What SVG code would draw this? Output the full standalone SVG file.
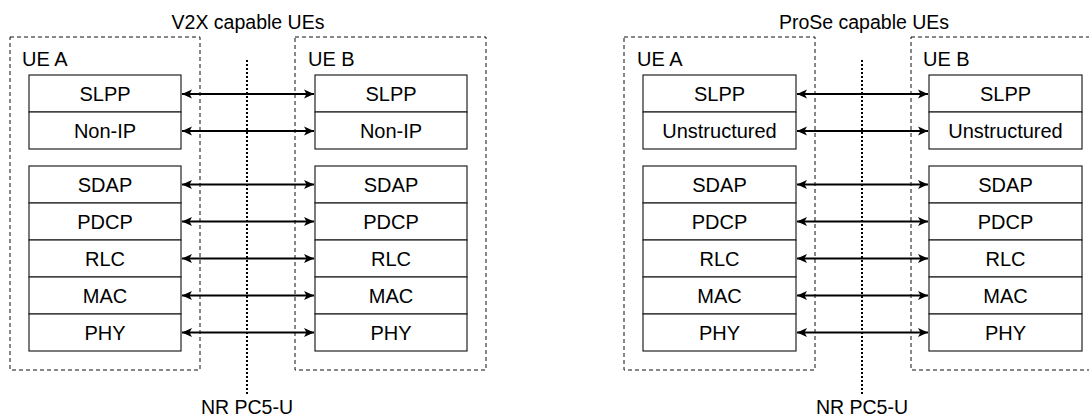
<svg xmlns="http://www.w3.org/2000/svg" width="1089" height="416" viewBox="0 0 1089 416">
<style>
text{font-family:"Liberation Sans",Arial,sans-serif;fill:#000}
.t{font-size:20px;text-anchor:middle}
.h{font-size:19.5px;text-anchor:middle}
.lbl{font-size:20px}
.b{fill:#fff;stroke:#222;stroke-width:1.2}
.ue{fill:none;stroke:#111;stroke-width:1;stroke-dasharray:4 3}
.ref{fill:none;stroke:#000;stroke-width:2;stroke-dasharray:2 2}
.c{stroke:#000;stroke-width:1.8;fill:none;marker-start:url(#a);marker-end:url(#a)}
</style>
<defs>
<marker id="a" viewBox="0 0 10 10" refX="10" refY="5" markerWidth="11" markerHeight="10" markerUnits="userSpaceOnUse" orient="auto-start-reverse">
<path d="M0,0.5 L10,5 L0,9.5 L2.5,5 Z" fill="#000"/>
</marker>
</defs>
<text class="h" x="248" y="29">V2X capable UEs</text>
<text class="h" x="864" y="29">ProSe capable UEs</text>
<g id="v2x-ueA">
<rect class="ue" x="10" y="37" width="190" height="333"/>
<text class="lbl" x="22" y="66">UE A</text>
<rect class="b" x="29" y="75" width="152" height="37"/><text class="t" x="105" y="100.5">SLPP</text>
<rect class="b" x="29" y="112" width="152" height="37"/><text class="t" x="105" y="137.5">Non-IP</text>
<rect class="b" x="29" y="166" width="152" height="37"/><text class="t" x="105" y="191.5">SDAP</text>
<rect class="b" x="29" y="203" width="152" height="37"/><text class="t" x="105" y="228.5">PDCP</text>
<rect class="b" x="29" y="240" width="152" height="37"/><text class="t" x="105" y="265.5">RLC</text>
<rect class="b" x="29" y="277" width="152" height="37"/><text class="t" x="105" y="302.5">MAC</text>
<rect class="b" x="29" y="314" width="152" height="37"/><text class="t" x="105" y="339.5">PHY</text>
</g>
<g id="v2x-ueB">
<rect class="ue" x="295" y="37" width="191" height="333"/>
<text class="lbl" x="308" y="66">UE B</text>
<rect class="b" x="315" y="75" width="152" height="37"/><text class="t" x="391" y="100.5">SLPP</text>
<rect class="b" x="315" y="112" width="152" height="37"/><text class="t" x="391" y="137.5">Non-IP</text>
<rect class="b" x="315" y="166" width="152" height="37"/><text class="t" x="391" y="191.5">SDAP</text>
<rect class="b" x="315" y="203" width="152" height="37"/><text class="t" x="391" y="228.5">PDCP</text>
<rect class="b" x="315" y="240" width="152" height="37"/><text class="t" x="391" y="265.5">RLC</text>
<rect class="b" x="315" y="277" width="152" height="37"/><text class="t" x="391" y="302.5">MAC</text>
<rect class="b" x="315" y="314" width="152" height="37"/><text class="t" x="391" y="339.5">PHY</text>
</g>
<g id="v2x-ref">
<line class="ref" x1="247" y1="60" x2="247" y2="395"/>
<text class="h" x="247" y="414">NR PC5-U</text>
</g>
<g id="prose-ueA">
<rect class="ue" x="624" y="37" width="191" height="333"/>
<text class="lbl" x="637" y="66">UE A</text>
<rect class="b" x="643" y="75" width="153" height="37"/><text class="t" x="719.5" y="100.5">SLPP</text>
<rect class="b" x="643" y="112" width="153" height="37"/><text class="t" x="719.5" y="137.5">Unstructured</text>
<rect class="b" x="643" y="166" width="153" height="37"/><text class="t" x="719.5" y="191.5">SDAP</text>
<rect class="b" x="643" y="203" width="153" height="37"/><text class="t" x="719.5" y="228.5">PDCP</text>
<rect class="b" x="643" y="240" width="153" height="37"/><text class="t" x="719.5" y="265.5">RLC</text>
<rect class="b" x="643" y="277" width="153" height="37"/><text class="t" x="719.5" y="302.5">MAC</text>
<rect class="b" x="643" y="314" width="153" height="37"/><text class="t" x="719.5" y="339.5">PHY</text>
</g>
<g id="prose-ueB">
<rect class="ue" x="911" y="37" width="200" height="333"/>
<text class="lbl" x="923" y="66">UE B</text>
<rect class="b" x="929" y="75" width="153" height="37"/><text class="t" x="1005.5" y="100.5">SLPP</text>
<rect class="b" x="929" y="112" width="153" height="37"/><text class="t" x="1005.5" y="137.5">Unstructured</text>
<rect class="b" x="929" y="166" width="153" height="37"/><text class="t" x="1005.5" y="191.5">SDAP</text>
<rect class="b" x="929" y="203" width="153" height="37"/><text class="t" x="1005.5" y="228.5">PDCP</text>
<rect class="b" x="929" y="240" width="153" height="37"/><text class="t" x="1005.5" y="265.5">RLC</text>
<rect class="b" x="929" y="277" width="153" height="37"/><text class="t" x="1005.5" y="302.5">MAC</text>
<rect class="b" x="929" y="314" width="153" height="37"/><text class="t" x="1005.5" y="339.5">PHY</text>
</g>
<g id="prose-ref">
<line class="ref" x1="862" y1="60" x2="862" y2="394"/>
<text class="h" x="862" y="414">NR PC5-U</text>
</g>
<g id="connectors">
<line class="c" x1="182" y1="94" x2="314" y2="94"/>
<line class="c" x1="182" y1="131" x2="314" y2="131"/>
<line class="c" x1="182" y1="184.5" x2="314" y2="184.5"/>
<line class="c" x1="182" y1="221.5" x2="314" y2="221.5"/>
<line class="c" x1="182" y1="258.5" x2="314" y2="258.5"/>
<line class="c" x1="182" y1="295.5" x2="314" y2="295.5"/>
<line class="c" x1="182" y1="332.5" x2="314" y2="332.5"/>
<line class="c" x1="797" y1="94" x2="928" y2="94"/>
<line class="c" x1="797" y1="131" x2="928" y2="131"/>
<line class="c" x1="797" y1="184.5" x2="928" y2="184.5"/>
<line class="c" x1="797" y1="221.5" x2="928" y2="221.5"/>
<line class="c" x1="797" y1="258.5" x2="928" y2="258.5"/>
<line class="c" x1="797" y1="295.5" x2="928" y2="295.5"/>
<line class="c" x1="797" y1="332.5" x2="928" y2="332.5"/>
</g>
</svg>
